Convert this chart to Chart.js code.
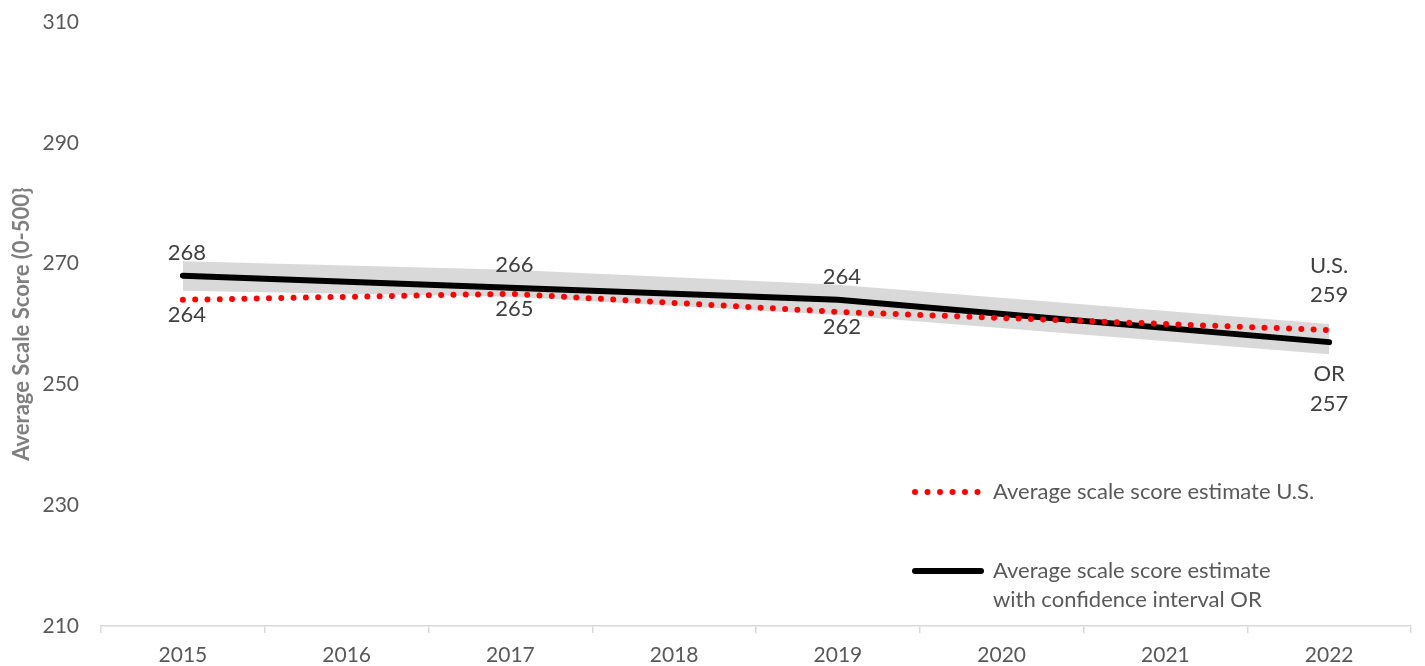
<!DOCTYPE html>
<html>
<head>
<meta charset="utf-8">
<title>Average Scale Score</title>
<script src="https://cdn.jsdelivr.net/npm/chart.js@4.4.0/dist/chart.umd.min.js"></script>
<style>
html, body { margin: 0; padding: 0; background: #fff; }
#wrap { width: 1425px; height: 666px; position: relative; }
</style>
</head>
<body>
<div id="wrap"><canvas id="scoreChart"></canvas></div>
<script>
// data
const years = ['2015', '2016', '2017', '2018', '2019', '2020', '2021', '2022'];
const usScores = [264, null, 265, null, 262, null, null, 259];
const orScores = [268, null, 266, null, 264, null, null, 257];
const orUpper = [270.4, null, 269, null, 266.5, null, null, 260];
const orLower = [265.5, null, 264.5, null, 261.5, null, null, 255];
const yTicks = [210, 230, 250, 270, 290, 310];
const usLegend = ['Average scale score estimate U.S.'];
const orLegend = ['Average scale score estimate', 'with confidence interval OR'];

const FONT = 'Lato, "Open Sans", sans-serif';

// value labels next to the points
const valueLabels = {
    id: 'valueLabels',
    afterDatasetsDraw(chart) {
        const ctx = chart.ctx;
        const last = years.length - 1;
        const us = chart.getDatasetMeta(0);
        const or = chart.getDatasetMeta(1);
        ctx.save();
        ctx.font = '22px ' + FONT;
        ctx.fillStyle = '#404040';
        ctx.textAlign = 'center';
        ctx.textBaseline = 'middle';
        usScores.forEach(function (v, i) {
            if (v === null) return;
            const p = us.data[i];
            if (i === last) {
                ctx.fillText('U.S.', p.x, p.y - 64);
                ctx.fillText(String(v), p.x, p.y - 35);
            } else {
                ctx.fillText(String(v), p.x + 4, p.y + 15);
            }
        });
        orScores.forEach(function (v, i) {
            if (v === null) return;
            const p = or.data[i];
            if (i === last) {
                ctx.fillText('OR', p.x, p.y + 32);
                ctx.fillText(String(v), p.x, p.y + 62);
            } else {
                ctx.fillText(String(v), p.x + 4, p.y - 23);
            }
        });
        ctx.restore();
    }
};

// legend sitting inside the plot, bottom right
const insideLegend = {
    id: 'insideLegend',
    afterDraw(chart) {
        const ctx = chart.ctx;
        const area = chart.chartArea;
        const x0 = area.right - 496;
        const x1 = x0 + 64;
        const tx = x0 + 78;
        const y1 = area.bottom - 134;
        const y2 = area.bottom - 55;
        ctx.save();
        ctx.lineCap = 'round';

        ctx.strokeStyle = '#ff0000';
        ctx.lineWidth = 6;
        ctx.setLineDash([0, 12.5]);
        ctx.beginPath();
        ctx.moveTo(x0, y1);
        ctx.lineTo(x1, y1);
        ctx.stroke();

        ctx.setLineDash([]);
        ctx.strokeStyle = '#000000';
        ctx.beginPath();
        ctx.moveTo(x0, y2);
        ctx.lineTo(x1 + 2, y2);
        ctx.stroke();

        ctx.font = '22px ' + FONT;
        ctx.fillStyle = '#595959';
        ctx.textAlign = 'left';
        ctx.textBaseline = 'middle';
        usLegend.forEach(function (t, i) { ctx.fillText(t, tx, y1 + i * 29); });
        orLegend.forEach(function (t, i) { ctx.fillText(t, tx, y2 + i * 29); });
        ctx.restore();
    }
};

var ctx1 = document.getElementById('scoreChart').getContext('2d');
new Chart(ctx1, {
    type: 'line',
    data: {
        labels: years,
        datasets: [
            {
                label: 'Average scale score estimate U.S.',
                data: usScores,
                borderColor: '#ff0000',
                borderWidth: 6,
                borderDash: [0, 12.3],
                borderCapStyle: 'round',
                pointRadius: 0,
                spanGaps: true,
                fill: false,
                tension: 0
            },
            {
                label: 'Average scale score estimate with confidence interval OR',
                data: orScores,
                borderColor: '#000000',
                borderWidth: 6,
                borderCapStyle: 'round',
                pointRadius: 0,
                spanGaps: true,
                fill: false,
                tension: 0
            },
            {
                label: 'OR upper',
                data: orUpper,
                borderWidth: 0,
                borderColor: 'rgba(0,0,0,0)',
                backgroundColor: '#d9d9d9',
                pointRadius: 0,
                spanGaps: true,
                fill: '+1',
                tension: 0
            },
            {
                label: 'OR lower',
                data: orLower,
                borderWidth: 0,
                borderColor: 'rgba(0,0,0,0)',
                pointRadius: 0,
                spanGaps: true,
                fill: false,
                tension: 0
            }
        ]
    },
    options: {
        responsive: true,
        maintainAspectRatio: false,
        animation: false,
        layout: { padding: { top: 22, right: 14, bottom: 0, left: 0 } },
        plugins: {
            legend: { display: false },
            tooltip: { enabled: false }
        },
        scales: {
            x: {
                offset: true,
                afterFit: function (scale) {
                    scale.height = 40;
                    scale.paddingLeft = 0;
                    scale.paddingRight = 0;
                },
                grid: { offset: true, drawOnChartArea: false, drawTicks: true, tickLength: 7, color: '#d9d9d9', lineWidth: 1.5 },
                border: { color: '#d9d9d9', width: 1.5 },
                ticks: { color: '#595959', font: { size: 21, family: FONT }, padding: 10, maxRotation: 0 }
            },
            y: {
                min: 210,
                max: 310,
                afterBuildTicks: function (axis) {
                    axis.ticks = yTicks.map(function (v) { return { value: v }; });
                },
                afterFit: function (scale) {
                    scale.width = 101;
                    scale.paddingTop = 0;
                    scale.paddingBottom = 0;
                },
                grid: { display: false, drawTicks: false },
                border: { display: false },
                ticks: { color: '#595959', font: { size: 21, family: FONT }, padding: 22 },
                title: {
                    display: true,
                    text: 'Average Scale Score (0-500}',
                    color: '#7f7f7f',
                    font: { size: 22, weight: 'bold', family: FONT },
                    padding: { top: 9, bottom: 0 }
                }
            }
        }
    },
    plugins: [valueLabels, insideLegend]
});
</script>
</body>
</html>
